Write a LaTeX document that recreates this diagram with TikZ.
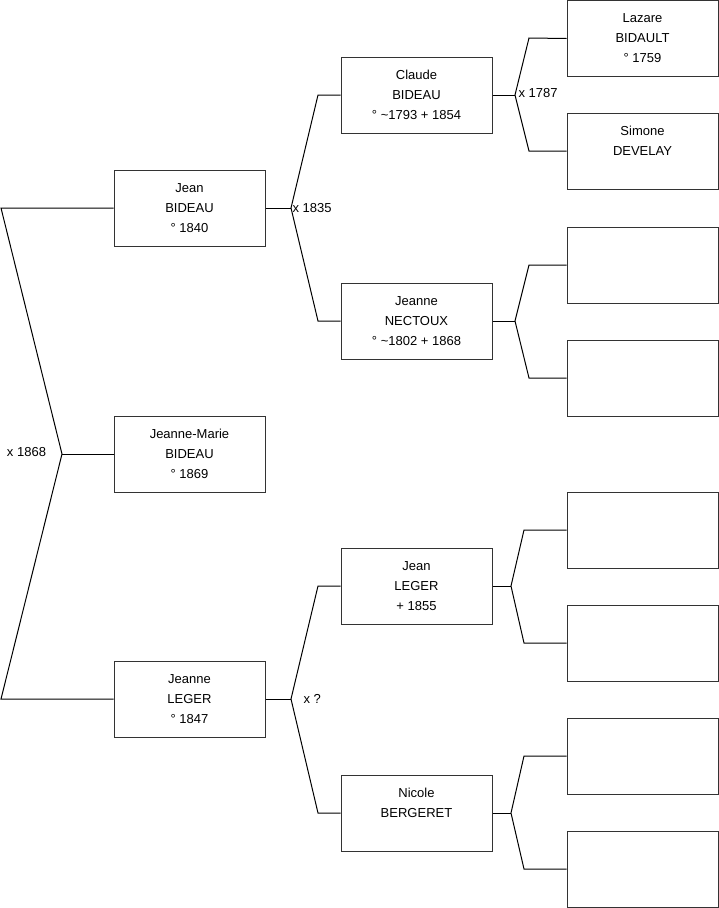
\documentclass[tikz,border=0pt]{standalone}
\usepackage{fontspec}
\setmainfont{Liberation Sans}
\begin{document}
\begin{tikzpicture}[x=1pt, y=-1pt, line width=1pt, font=\fontsize{13}{20}\selectfont]
	\tikzset{person/.style={draw=black!80, minimum width=151pt, minimum height=76pt, align=center, inner sep=0pt},
		mariage/.style={inner sep=1pt}}
	\useasboundingbox (0,0) rectangle (719,908);
	% generation 1
	\node[person] (jeanneMarie) at (189.5,454) {Jeanne-Marie\\BIDEAU\\° 1869};
	% generation 2
	\node[person] (jeanB) at (189.5,208) {Jean\\BIDEAU\\° 1840};
	\node[person] (jeanneL) at (189.5,699) {Jeanne\\LEGER\\° 1847};
	% generation 3
	\node[person] (claude) at (416.5,95) {Claude\\BIDEAU\\° \textasciitilde1793 + 1854};
	\node[person] (nectoux) at (416.5,321) {Jeanne\\NECTOUX\\° \textasciitilde1802 + 1868};
	\node[person] (jeanL) at (416.5,586) {Jean\\LEGER\\+ 1855};
	\node[person] (nicole) at (416.5,813) {Nicole\\BERGERET\\~};
	% generation 4
	\node[person] (lazare) at (642.5,38.5) {Lazare\\BIDAULT\\° 1759};
	\node[person] (simone) at (642.5,151) {Simone\\DEVELAY\\~};
	\node[person] (p5) at (642.5,265) {};
	\node[person] (p6) at (642.5,378) {};
	\node[person] (p7) at (642.5,530) {};
	\node[person] (p8) at (642.5,643) {};
	\node[person] (p9) at (642.5,756) {};
	\node[person] (p10) at (642.5,869) {};

	% forks
	\coordinate (f1) at (62,454);
	\coordinate (f1a) at (1,208);
	\coordinate (f1b) at (1,699);
	\draw (jeanneMarie.west) -- (f1);
	\draw (jeanB.west) -- (f1a) -- (f1) -- (f1b) -- (jeanneL.west);
	\node[mariage] (m1) at (26.5,452) {x 1868};

	\coordinate (f2) at (291,208);
	\draw (jeanB.east) -- (f2);
	\draw (claude.west) -- (318,95) -- (f2) -- (318,321) -- (nectoux.west);
	\node[mariage, anchor=west] (m2) at (f2) {x 1835};

	\coordinate (f3) at (291,699);
	\draw (jeanneL.east) -- (f3);
	\draw (jeanL.west) -- (318,586) -- (f3) -- (318,813) -- (nicole.west);
	\node[mariage, anchor=west] (m3) at (302,699) {x ?};

	\coordinate (f4) at (515,95);
	\draw (claude.east) -- (f4);
	\draw (lazare.west) -- (529,38) -- (f4) -- (529,151) -- (simone.west);
	\node[mariage, anchor=west] (m4) at (517,93) {x 1787};

	\coordinate (f5) at (515,321);
	\draw (nectoux.east) -- (f5);
	\draw (p5.west) -- (529,265) -- (f5) -- (529,378) -- (p6.west);

	\coordinate (f6) at (511,586);
	\draw (jeanL.east) -- (f6);
	\draw (p7.west) -- (524,530) -- (f6) -- (524,643) -- (p8.west);

	\coordinate (f7) at (511,813);
	\draw (nicole.east) -- (f7);
	\draw (p9.west) -- (524,756) -- (f7) -- (524,869) -- (p10.west);
\end{tikzpicture}
\end{document}
